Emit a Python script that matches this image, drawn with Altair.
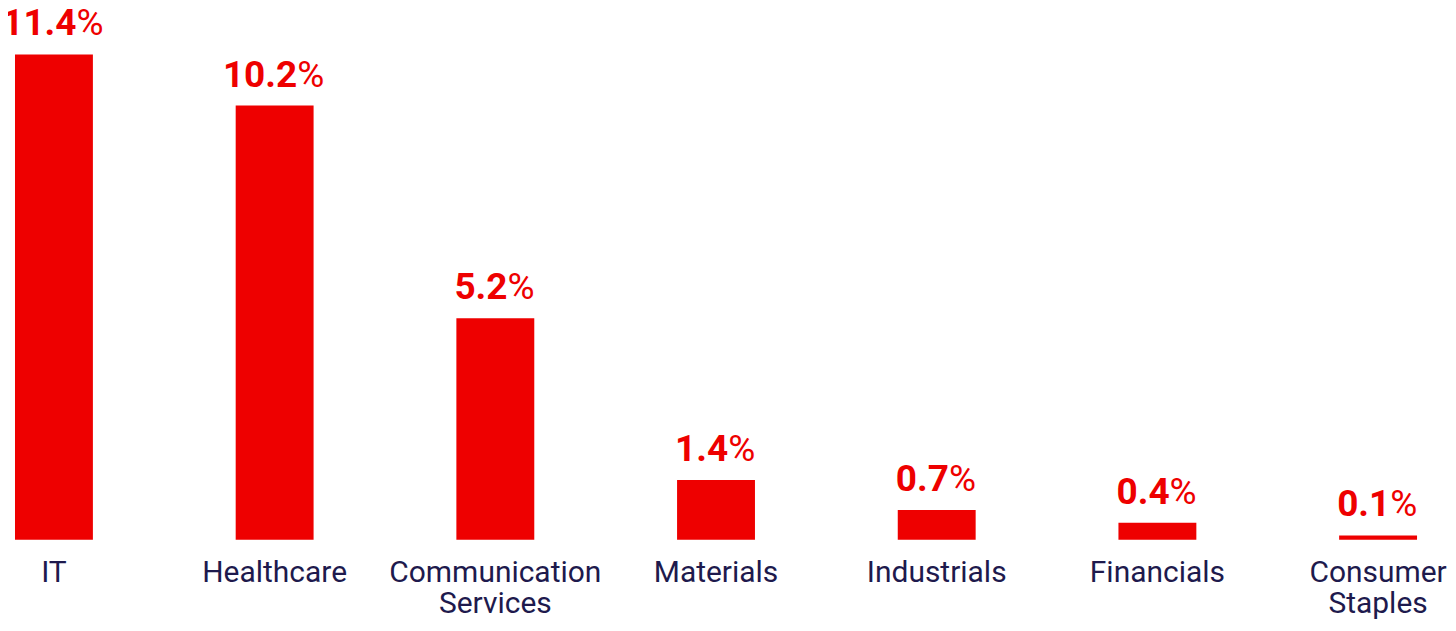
import altair as alt
import pandas as pd

categories = ["IT", "Healthcare", "Communication Services", "Materials",
              "Industrials", "Financials", "Consumer Staples"]
values = [11.4, 10.2, 5.2, 1.4, 0.7, 0.4, 0.1]
labels = ["11.4", "10.2", "5.2", "1.4", "0.7", "0.4", "0.1"]

df = pd.DataFrame({"cat": categories, "val": values, "lab": labels})

RED = "#EE0000"
NAVY = "#1E1A4D"
FS = 37

x = alt.X("cat:N", sort=categories,
          scale=alt.Scale(paddingInner=0.647, paddingOuter=0.0317),
          axis=alt.Axis(title=None, ticks=False, tickSize=0, domain=False,
                        labelAngle=0, labelFont="Roboto", labelFontSize=30,
                        labelColor=NAVY, labelPadding=18, labelLineHeight=31,
                        labelExpr="split(datum.label, ' ')", labelLimit=400))
y = alt.Y("val:Q", scale=alt.Scale(domain=[0, 12.48], nice=False, zero=True),
          axis=None)

base = alt.Chart(df).transform_calculate(
    off="((length(datum.lab) - 1) * 0.5615 + 0.27 - 0.733) * %d / 2" % FS
)

bars = base.mark_bar(color=RED).encode(x=x, y=y)

num = base.mark_text(font="Roboto", fontSize=FS, fontWeight="bold", color=RED,
                     align="right", baseline="alphabetic", dy=-19,
                     dx=alt.expr("datum.off")).encode(x=x, y=y, text="lab:N")
pct = base.mark_text(font="Roboto", fontSize=FS, fontWeight="normal", color=RED,
                     align="left", baseline="alphabetic", dy=-19,
                     dx=alt.expr("datum.off")).encode(x=x, y=y, text=alt.value("%"))

chart = alt.layer(bars, num, pct).properties(
    width=1418, height=532,
    autosize=alt.AutoSizeParams(type="none"),
    padding={"left": 0, "top": 0, "right": 24, "bottom": 79},
).configure(background="white").configure_view(strokeWidth=0)

chart.save("out.html", embed_options={"renderer": "svg", "actions": False})
